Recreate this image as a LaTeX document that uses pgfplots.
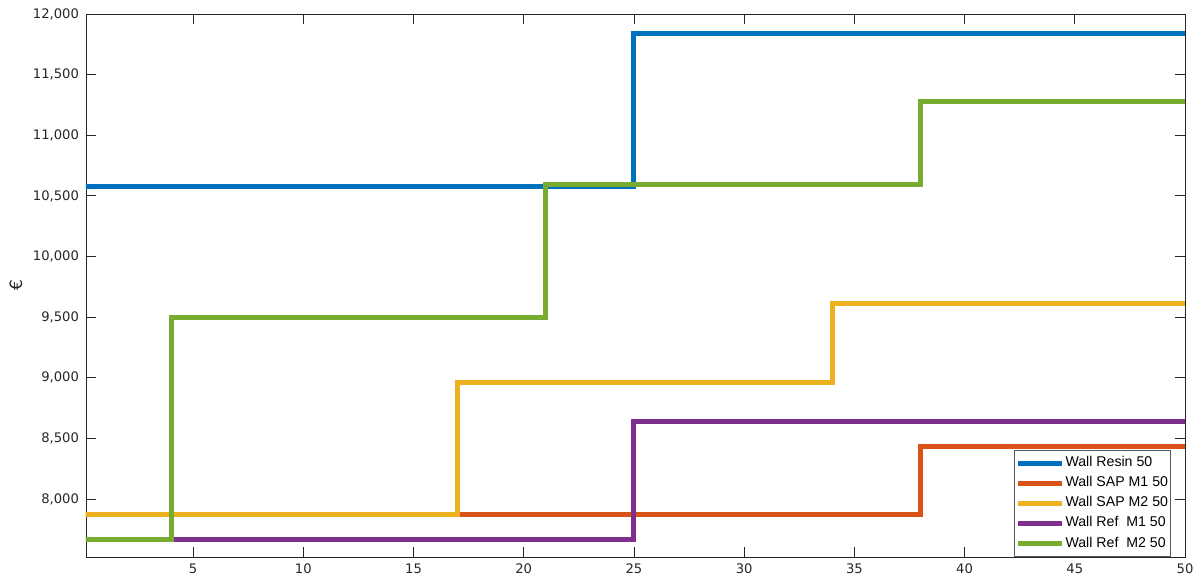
\documentclass[border=0pt]{standalone}
\usepackage{fontspec}
\setmainfont{DejaVu Sans}
\newfontfamily\arialf{Liberation Sans}
\usepackage{pgfplots}
\pgfplotsset{compat=1.18}
\definecolor{mblue}{rgb}{0,0.447,0.741}
\definecolor{morange}{rgb}{0.85,0.325,0.098}
\definecolor{myellow}{rgb}{0.929,0.694,0.125}
\definecolor{mpurple}{rgb}{0.494,0.184,0.556}
\definecolor{mgreen}{rgb}{0.466,0.674,0.188}
\definecolor{axgray}{gray}{0.15}
\begin{document}
\begin{tikzpicture}
\begin{axis}[
  name=ax,
  scale only axis,
  width=549.5bp, height=271.5bp,
  xmin=0.14, xmax=50,
  ymin=7522, ymax=12000,
  xtick={5,10,...,50},
  ytick={8000,8500,...,12000},
  scaled y ticks=false,
  /pgf/number format/.cd, 1000 sep={,}, assume math mode=true, /pgfplots/.cd,
  tick label style={font=\fontsize{6.6}{7}\selectfont, text=axgray},
  axis line style={axgray, line width=0.4pt},
  tick style={axgray, line width=0.4pt},
  major tick length=5bp,
  tick align=inside,
  ylabel={€},
  ylabel style={font=\fontsize{8.5}{9}\selectfont, text=axgray, yshift=-1.5bp},
  legend style={at={(rel axis cs:1,0)}, anchor=south east, xshift=-7bp,
    font=\arialf\fontsize{7.1}{8.5}\selectfont, draw=gray!70!black, line width=0.4pt,
    inner xsep=1bp, inner ysep=1.5bp, row sep=-0.2bp,
    nodes={inner xsep=0.3bp, inner ysep=1.8bp}},
  legend cell align=left,
  legend image code/.code={\draw[#1, line width=2.5bp] (0,0) -- (22bp,0);},
  every axis plot/.append style={line width=2.5bp, const plot},
]
\addplot[mblue] coordinates {(0,10581) (25,11841) (50,11841)};
\addlegendentry{Wall Resin 50}
\addplot[morange] coordinates {(0,7871) (38,8437) (50,8437)};
\addlegendentry{Wall SAP M1 50}
\addplot[myellow] coordinates {(0,7872) (17,8957) (34,9614) (50,9614)};
\addlegendentry{Wall SAP M2 50}
\addplot[mpurple] coordinates {(0,7670) (25,8638) (50,8638)};
\addlegendentry{Wall Ref~ M1 50}
\addplot[mgreen] coordinates {(0,7670) (4,9493) (21,10598) (38,11277) (50,11277)};
\addlegendentry{Wall Ref~ M2 50}
\end{axis}
\pgfresetboundingbox
\path ([shift={(-43bp,-14bp)}]ax.south west) rectangle ([shift={(6.5bp,7bp)}]ax.north east);
\end{tikzpicture}
\end{document}
